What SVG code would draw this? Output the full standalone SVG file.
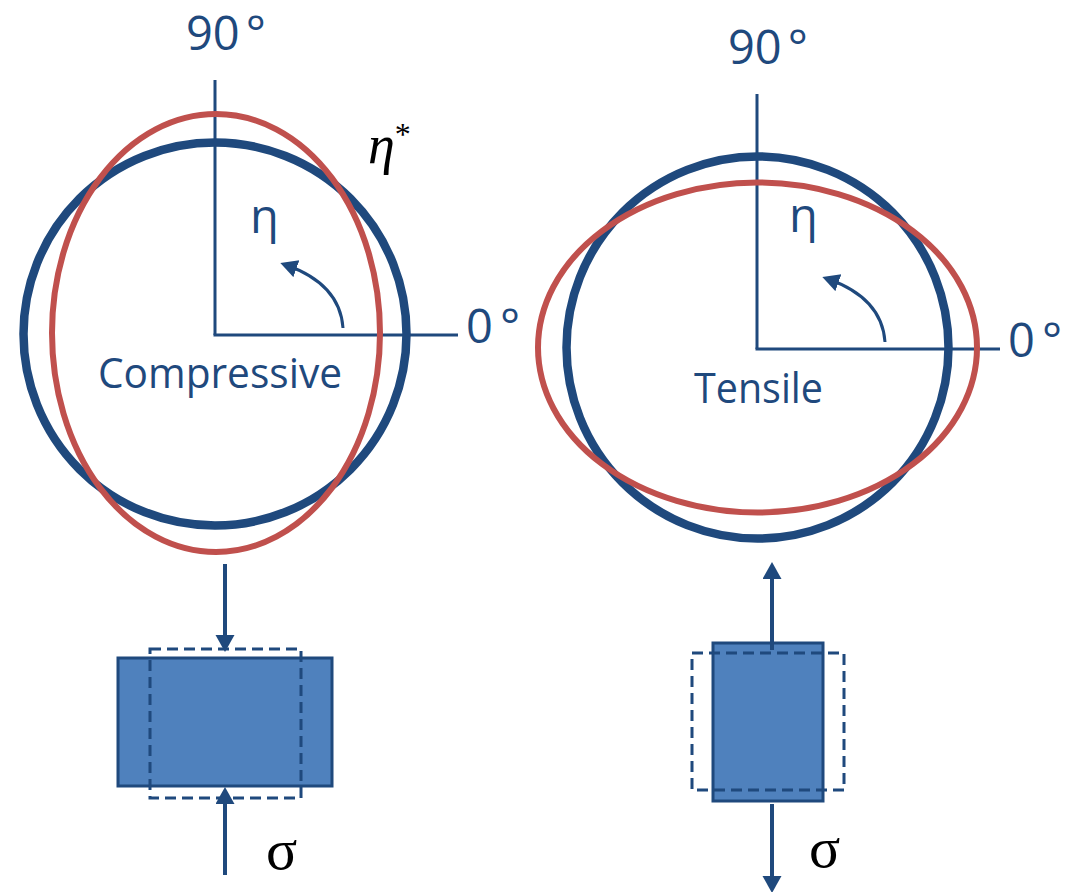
<svg xmlns="http://www.w3.org/2000/svg" width="1066" height="892" viewBox="0 0 1066 892">
  <defs>
    <style>
      .lbl { font-family: "Open Sans", "Liberation Sans", sans-serif; fill: #1F497D; }
      .big { font-size: 47px; }
      .mid { font-size: 42px; }
      .math { font-family: "Liberation Serif", "DejaVu Serif", serif; fill: #000000; }
      .axis { fill: none; stroke: #1F497D; stroke-width: 3; }
      .ref { fill: none; stroke: #1F497D; stroke-width: 8.5; }
      .def { fill: none; stroke: #C0504D; stroke-width: 6; }
      .curv { fill: none; stroke: #1F497D; stroke-width: 3; marker-end: url(#headSmall); }
      .force { fill: none; stroke: #1F497D; stroke-width: 4; marker-end: url(#head); }
      .body { fill: #4F81BD; stroke: #1F497D; stroke-width: 3; }
      .orig { fill: none; stroke: #1F497D; stroke-width: 3; stroke-dasharray: 11 6; }
    </style>
    <marker id="head" markerUnits="userSpaceOnUse" markerWidth="20" markerHeight="20" refX="11" refY="9.5" orient="auto">
      <path d="M0,0 L17,9.5 L0,19 Z" fill="#1F497D"/>
    </marker>
    <marker id="headSmall" markerUnits="userSpaceOnUse" markerWidth="20" markerHeight="20" refX="11" refY="9" orient="auto">
      <path d="M0,0 L17,9 L0,18 Z" fill="#1F497D"/>
    </marker>
  </defs>

  <!-- Compressive panel -->
  <g id="compressive-plot">
    <line class="axis" x1="215" y1="80" x2="215" y2="335"/>
    <line class="axis" x1="213.5" y1="335" x2="458" y2="335"/>
    <circle class="ref" cx="215" cy="334" r="191.5"/>
    <ellipse class="def" cx="216" cy="333" rx="164" ry="219"/>
    <text class="lbl big" x="186" y="50">90<tspan dx="6">°</tspan></text>
    <text class="lbl big" x="466" y="343">0<tspan dx="7">°</tspan></text>
    <text class="lbl big" x="250" y="233">η</text>
    <text class="math" x="368" y="163" font-size="54" font-style="italic">η<tspan font-size="32" font-style="normal" dy="-18">*</tspan></text>
    <text class="lbl mid" x="98" y="388" textLength="244" lengthAdjust="spacingAndGlyphs">Compressive</text>
  </g>

  <g id="compressive-sample">
    <rect class="body" x="118" y="658" width="214" height="128"/>
    <rect class="orig" x="150" y="649" width="151" height="149"/>
    <text class="math" x="266" y="869" font-size="58">σ</text>
  </g>

  <!-- Tensile panel -->
  <g id="tensile-plot">
    <line class="axis" x1="757" y1="94" x2="757" y2="349"/>
    <line class="axis" x1="755.5" y1="349" x2="1000" y2="349"/>
    <circle class="ref" cx="757.5" cy="347.5" r="191"/>
    <ellipse class="def" cx="757.5" cy="347.5" rx="219.5" ry="165"/>
    <text class="lbl big" x="728" y="64">90<tspan dx="6">°</tspan></text>
    <text class="lbl big" x="1008" y="357">0<tspan dx="7">°</tspan></text>
    <text class="lbl big" x="789" y="232">η</text>
    <text class="lbl mid" x="694" y="403" textLength="129" lengthAdjust="spacingAndGlyphs">Tensile</text>
  </g>

  <g id="tensile-sample">
    <rect class="body" x="713" y="643" width="110" height="158"/>
    <rect class="orig" x="692" y="653" width="152" height="137"/>
    <text class="math" x="809" y="867" font-size="58">σ</text>
  </g>

  <!-- connectors -->
  <g id="connectors">
    <path class="curv" d="M343,328 Q340,284 286,265"/>
    <path class="curv" d="M885,342 Q882,298 828,279"/>
    <line class="force" x1="225" y1="564" x2="225" y2="646"/>
    <line class="force" x1="225" y1="875" x2="225" y2="793"/>
    <line class="force" x1="772" y1="650" x2="772" y2="568"/>
    <line class="force" x1="772" y1="804" x2="772" y2="887"/>
  </g>
</svg>
